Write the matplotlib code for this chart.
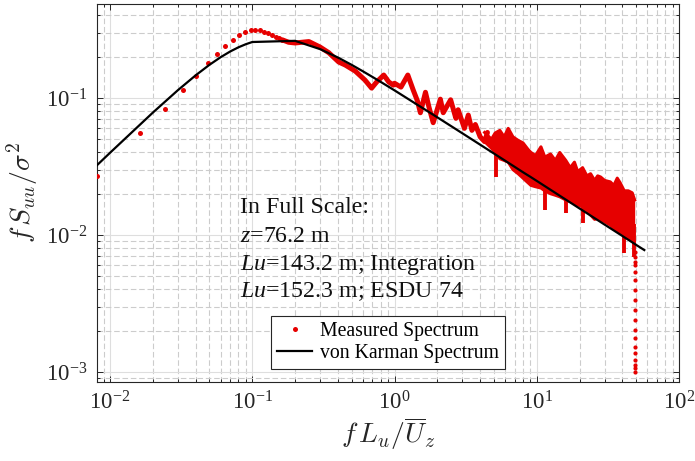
import matplotlib
matplotlib.use("Agg")
import matplotlib.pyplot as plt
from matplotlib.ticker import LogLocator, NullFormatter

plt.rcParams['font.family'] = ['Liberation Serif', 'DejaVu Serif']
plt.rcParams['mathtext.fontset'] = 'custom'
plt.rcParams['mathtext.rm'] = 'Liberation Serif'
plt.rcParams['mathtext.it'] = 'Liberation Serif:italic'
plt.rcParams['mathtext.bf'] = 'Liberation Serif:bold'

RED = '#e60000'

# ---- von Karman spectrum ----
vk_n = [0.0081, 0.01, 0.02, 0.03, 0.04, 0.05, 0.06, 0.07, 0.08, 0.09, 0.1,
        0.2, 0.3, 0.4, 0.5, 0.6, 0.7, 0.8, 0.9, 1.0,
        2, 3, 4, 5, 6, 7, 8, 9, 10, 20, 30, 40, 50, 57]
vk_s = [0.0323, 0.0398, 0.0782, 0.114, 0.1463, 0.1746, 0.1986, 0.2185, 0.2344, 0.2467, 0.2561,
        0.2612, 0.2271, 0.1973, 0.1743, 0.1564, 0.1423, 0.1309, 0.1215, 0.1136,
        0.0722, 0.0552, 0.0456, 0.0393, 0.0348, 0.0314, 0.0287, 0.0266, 0.0248,
        0.0156, 0.0119, 0.00983, 0.00846, 0.00776]

# ---- measured spectrum: low-frequency discrete points ----
meas_lo_n = [0.0081, 0.0162, 0.0243, 0.0324, 0.0405, 0.0486, 0.0567, 0.0648, 0.0729, 0.081,
             0.0891, 0.0972, 0.1053, 0.1134, 0.1215, 0.1296, 0.1377, 0.1458, 0.1539, 0.162]
meas_lo_s = [0.027, 0.0555, 0.083, 0.114, 0.145, 0.180, 0.210, 0.240, 0.265, 0.288,
             0.303, 0.313, 0.315, 0.312, 0.305, 0.296, 0.288, 0.280, 0.272, 0.266]

# ---- measured spectrum: mid range (dense points merge into a thick curve) ----
meas_mid_n = [0.162, 0.18, 0.2, 0.25, 0.3, 0.345, 0.405, 0.45, 0.53, 0.62, 0.69, 0.75, 0.84,
              0.91, 0.98, 1.0, 1.11, 1.24, 1.35, 1.45, 1.52, 1.65, 1.75, 1.87, 2.1, 2.2, 2.48,
              2.7, 2.8, 3.1, 3.3, 3.5, 3.7, 4.0, 4.3, 4.5]
meas_mid_s = [0.266, 0.255, 0.252, 0.258, 0.235, 0.214, 0.183, 0.174, 0.157, 0.135, 0.118, 0.131, 0.147,
              0.131, 0.124, 0.128, 0.120, 0.147, 0.115, 0.095, 0.078, 0.110, 0.085, 0.066, 0.098, 0.078, 0.097,
              0.071, 0.082, 0.060, 0.075, 0.058, 0.064, 0.052, 0.048, 0.056]

# ---- measured spectrum: high-frequency band (upper / lower envelope) ----
band_n = [4.3, 4.8, 5.1, 5.5, 5.9, 6.3, 6.8, 7.4, 8.0, 8.7, 9.1, 9.8, 10.7, 11.4, 12.5, 13.5, 14.5, 16.0,
          17.2, 18.4, 19.4, 21.0, 22.5, 23.9, 25.5, 26.8, 28.1, 30.0, 32.9, 34.8, 36.8, 38.6, 41.2, 44.0,
          46.9, 48.8]
band_hi = [0.056, 0.050, 0.0555, 0.058, 0.052, 0.060, 0.052, 0.049, 0.047, 0.042, 0.040, 0.038, 0.044, 0.037,
           0.039, 0.035, 0.040, 0.035, 0.031, 0.034, 0.029, 0.031, 0.027, 0.028, 0.025, 0.027, 0.0265, 0.025,
           0.0244, 0.023, 0.026, 0.024, 0.021, 0.021, 0.0203, 0.018]
band_lo = [0.048, 0.043, 0.040, 0.036, 0.035, 0.034, 0.030, 0.028, 0.026, 0.024, 0.023, 0.0225, 0.022, 0.021,
           0.020, 0.0195, 0.019, 0.018, 0.0175, 0.017, 0.0166, 0.016, 0.015, 0.014, 0.013, 0.0132, 0.0129,
           0.0125, 0.0118, 0.0112, 0.0108, 0.0104, 0.0098, 0.0095, 0.0092, 0.0085]

# downward spikes in the band
spike_n = [5.2, 11.4, 16.0, 21.0, 41.2, 48.0]
spike_top = [0.045, 0.030, 0.025, 0.020, 0.014, 0.012]
spike_lo = [0.0265, 0.0152, 0.0145, 0.0123, 0.0074, 0.0069]

# roll-off column at the highest frequency
drop_n = 48.8
drop_s = [0.0075, 0.0069, 0.0064, 0.00604, 0.00537, 0.00469, 0.00397, 0.00336, 0.00284, 0.00240,
          0.00203, 0.00177, 0.00152, 0.00138, 0.00122, 0.00113, 0.00107, 0.00100]

fig = plt.figure(figsize=(6.95, 4.61), dpi=100)
ax = fig.add_axes([0.1396, 0.1714, 0.8374, 0.8199])
ax.set_xscale('log')
ax.set_yscale('log')

# measured
ax.fill_between(band_n, band_lo, band_hi, color=RED, lw=0, zorder=3)
ax.plot(band_n, band_hi, color=RED, lw=2.2, zorder=3)
ax.plot(band_n, band_lo, color=RED, lw=2.2, zorder=3)
ax.vlines(spike_n, spike_lo, spike_top, color=RED, lw=2.8, zorder=3)
ax.plot(meas_mid_n, meas_mid_s, color=RED, lw=3.6, zorder=3, solid_capstyle='round')
ax.plot([drop_n] * len(drop_s), drop_s, 'o', ls='none', color=RED, ms=3.0, mew=0, zorder=3)
ax.plot(meas_lo_n, meas_lo_s, 'o', ls='none', color=RED, ms=3.6, mew=0, zorder=3,
        label='Measured Spectrum')

# von Karman
ax.plot(vk_n, vk_s, color='black', lw=1.6, zorder=4, label='von Karman Spectrum')

ax.set_xlim(0.0081, 100)
ax.set_ylim(8.45e-4, 0.485)

ax.xaxis.set_major_locator(LogLocator(base=10, numticks=10))
ax.yaxis.set_major_locator(LogLocator(base=10, numticks=10))
ax.xaxis.set_minor_locator(LogLocator(base=10, subs=range(2, 10), numticks=50))
ax.yaxis.set_minor_locator(LogLocator(base=10, subs=range(2, 10), numticks=50))
ax.xaxis.set_minor_formatter(NullFormatter())
ax.yaxis.set_minor_formatter(NullFormatter())

ax.grid(True, which='major', color='#dedede', lw=0.8, ls='-', zorder=0)
ax.grid(True, which='minor', color='#cccccc', lw=0.8, ls=(0, (5, 2.5)), zorder=0)
ax.set_axisbelow(True)

ax.tick_params(which='both', direction='in', top=True, right=True, colors='#262626',
               labelsize=16.5, width=0.7)
ax.tick_params(which='major', length=4.5, pad=7)
ax.tick_params(which='minor', length=2.5)
for s in ax.spines.values():
    s.set_color('#262626')
    s.set_linewidth(0.8)

ax.set_xlabel(r'$f\,L_u/\overline{U}_z$', fontsize=20, color='#262626', labelpad=0,
              math_fontfamily='cm')
ax.set_ylabel(r'$f\,S_{uu}/\sigma^2$', fontsize=20, color='#262626', labelpad=4,
              math_fontfamily='cm')

txt_lines = ['In Full Scale:', r'$z$=76.2 m', r'$Lu$=143.2 m; Integration', r'$Lu$=152.3 m; ESDU 74']
txt_y = [0.447, 0.370, 0.296, 0.225]
for t, yy in zip(txt_lines, txt_y):
    ax.text(0.2457, yy, t, transform=ax.transAxes, fontsize=17.2, va='baseline', ha='left',
            color='#111111', zorder=6)

leg = ax.legend(loc='lower center', bbox_to_anchor=(0.5, 0.035), fontsize=14.2, numpoints=1,
                fancybox=False, edgecolor='#262626', framealpha=1, handlelength=1.8,
                handletextpad=0.4, borderpad=0.3, labelspacing=0.15, borderaxespad=0)
leg.get_frame().set_linewidth(0.8)
leg.set_zorder(7)

fig.savefig('out.png', dpi=100)
